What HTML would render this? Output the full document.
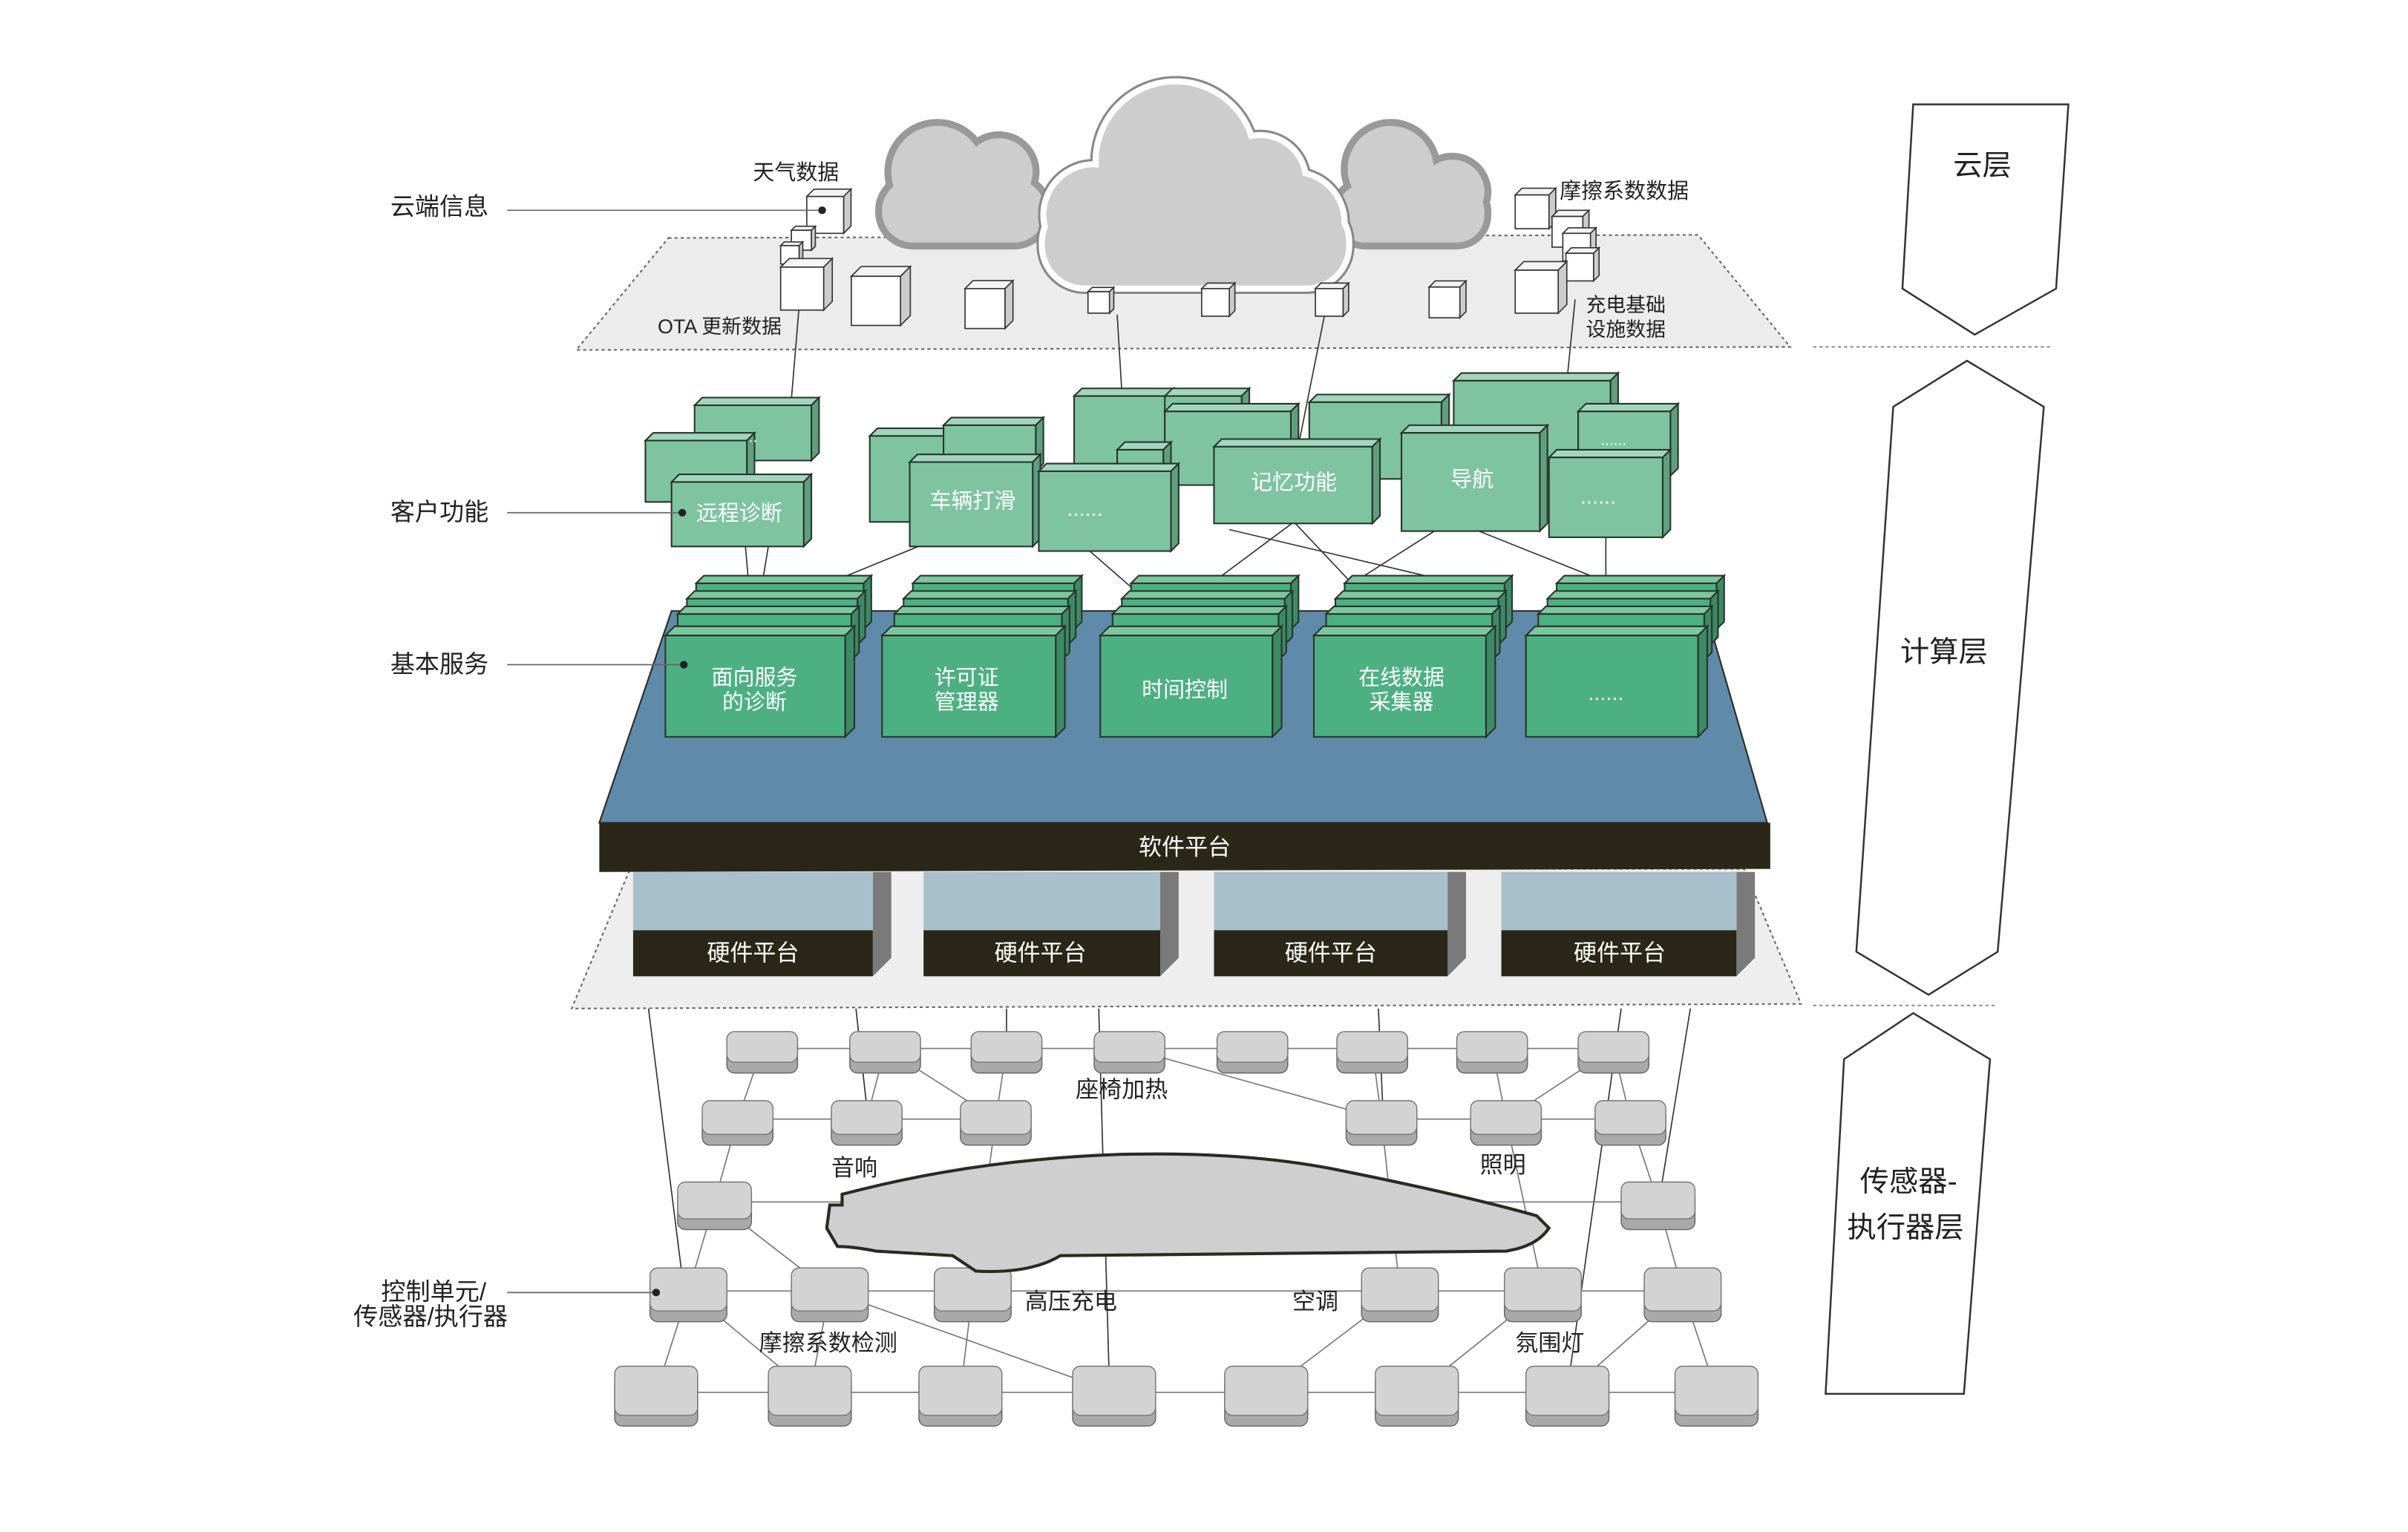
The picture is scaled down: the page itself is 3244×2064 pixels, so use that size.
<!DOCTYPE html>
<html><head><meta charset="utf-8"><style>
html,body{margin:0;padding:0;background:#fff;}
svg{display:block;}
text{font-family:"Liberation Sans","Noto Sans CJK SC",sans-serif;}
</style></head><body>
<svg id="s" width="3244" height="2064" viewBox="0 0 1567 998" preserveAspectRatio="none" xmlns="http://www.w3.org/2000/svg">
<rect width="1600" height="1000" fill="#fff"/>
<polygon points="1245,68 1346,68 1338,188 1285,218 1238,188" fill="#fff" stroke="#333" stroke-width="1.2"/>
<polygon points="1232,265 1280,235 1330,265 1300,620 1255,648 1208,620" fill="#fff" stroke="#333" stroke-width="1.2"/>
<polygon points="1200,690 1245,660 1295,690 1278,908 1188,908" fill="#fff" stroke="#333" stroke-width="1.2"/>
<line x1="1180" y1="226" x2="1335" y2="226" stroke="#888" stroke-dasharray="2,2"/>
<line x1="1180" y1="655" x2="1300" y2="655" stroke="#888" stroke-dasharray="2,2"/>
<g font-size="19" fill="#222" text-anchor="middle">
<text x="1290" y="114">云层</text>
<text x="1265" y="431">计算层</text>
<text x="1242" y="776">传感器-</text>
<text x="1240" y="806">执行器层</text>
</g>
<polygon points="435,155 1105,153 1165,226 375,228" fill="#ececec" stroke="#666" stroke-dasharray="2,2"/>
<polygon points="410,566 1135,566 1172,654 372,657" fill="#eeeeee" stroke="#666" stroke-dasharray="2,2"/>
<g id="lines" stroke="#555" stroke-width="0.8" fill="none"></g>
<g id="tiles"></g>
<path d="M540,785 L548,785 L548,778 L560,775 Q640,755 730,752 Q810,750 870,762 Q950,778 1000,792 L1008,800 Q1000,812 980,815 L690,818 Q670,830 635,828 L620,818 L570,815 Q555,812 545,812 L538,800 Z" fill="#cfcfcf" stroke="#2a2a1f" stroke-width="2"/>
<g id="boxes"></g>
<g stroke="#999" stroke-width="5" fill="#cdcdcd">
<circle cx="610" cy="112" r="32"/><circle cx="650" cy="112" r="24"/><rect x="572" y="115" width="110" height="45" rx="22"/>
<circle cx="905" cy="110" r="30"/><circle cx="945" cy="125" r="23"/><rect x="868" y="118" width="100" height="42" rx="20"/>
</g>
<g fill="#cdcdcd" stroke="none">
<circle cx="610" cy="112" r="30"/><circle cx="650" cy="112" r="22"/><rect x="574" y="117" width="106" height="41" rx="20"/>
<circle cx="905" cy="110" r="28"/><circle cx="945" cy="125" r="21"/><rect x="870" y="120" width="96" height="38" rx="18"/>
</g>
<g stroke="#888" stroke-width="7" fill="#cdcdcd">
<circle cx="765" cy="105" r="52"/><circle cx="820" cy="118" r="30"/><circle cx="712" cy="140" r="33"/><circle cx="842" cy="145" r="33"/><rect x="678" y="130" width="200" height="58" rx="28"/>
</g>
<g stroke="#fff" stroke-width="4" fill="#cdcdcd">
<circle cx="765" cy="105" r="52"/><circle cx="820" cy="118" r="30"/><circle cx="712" cy="140" r="33"/><circle cx="842" cy="145" r="33"/><rect x="678" y="130" width="200" height="58" rx="28"/>
</g>
<g fill="#cdcdcd"><circle cx="765" cy="105" r="50"/><circle cx="820" cy="118" r="28"/><circle cx="712" cy="140" r="31"/><circle cx="842" cy="145" r="31"/><rect x="680" y="132" width="196" height="54" rx="26"/></g>
<g id="cubes"></g>
<polygon points="437,398 1110,398 1150,536 390,536" fill="#5f8aa9" stroke="#2a2a1f"/>
<g id="svc"></g>
<polygon points="390,536 1152,536 1152,566 390,568" fill="#2b2718"/>
<text x="771" y="557" font-size="15" fill="#fff" text-anchor="middle">软件平台</text>
<g id="hw"></g>
<g stroke="#666" stroke-width="0.8">
<line x1="330" y1="137" x2="535" y2="137"/>
<line x1="330" y1="334" x2="444" y2="334"/>
<line x1="330" y1="433" x2="445" y2="433"/>
<line x1="330" y1="842" x2="427" y2="842"/>
</g>
<g fill="#222"><circle cx="535" cy="137" r="2.5"/><circle cx="444" cy="334" r="2.5"/><circle cx="445" cy="433" r="2.5"/><circle cx="427" cy="842" r="2.5"/></g>
<g font-size="15" fill="#222">
<text x="254" y="140" font-size="16">云端信息</text>
<text x="254" y="339" font-size="16">客户功能</text>
<text x="254" y="438" font-size="16">基本服务</text>
<text x="248" y="847" font-size="16">控制单元/</text>
<text x="230" y="863" font-size="16">传感器/执行器</text>
<text x="490" y="117" font-size="14">天气数据</text>
<text x="1015" y="129" font-size="14">摩擦系数数据</text>
<text x="428" y="217" font-size="13">OTA 更新数据</text>
<text x="1032" y="203" font-size="13">充电基础</text>
<text x="1032" y="219" font-size="13">设施数据</text>
<text x="700" y="715">座椅加热</text>
<text x="541" y="766">音响</text>
<text x="963" y="764">照明</text>
<text x="667" y="853">高压充电</text>
<text x="841" y="853">空调</text>
<text x="494" y="880">摩擦系数检测</text>
<text x="986" y="880">氛围灯</text>
</g>
<g id="txt" font-size="14" fill="#fff" text-anchor="middle">
<text x="481" y="339">远程诊断</text>
<text x="633" y="331">车辆打滑</text>
<text x="706" y="336">......</text>
<text x="842" y="319">记忆功能</text>
<text x="958" y="317">导航</text>
<text x="1040" y="328">......</text>
<text x="1050" y="290" font-size="10">......</text>
<text x="490" y="288" font-size="10">..</text>
<text x="491" y="446">面向服务</text>
<text x="491" y="462">的诊断</text>
<text x="629" y="446">许可证</text>
<text x="629" y="462">管理器</text>
<text x="771" y="454">时间控制</text>
<text x="912" y="446">在线数据</text>
<text x="912" y="462">采集器</text>
<text x="1045" y="456">......</text>
<text x="490" y="626" font-size="15">硬件平台</text>
<text x="677" y="626" font-size="15">硬件平台</text>
<text x="866" y="626" font-size="15">硬件平台</text>
<text x="1054" y="626" font-size="15">硬件平台</text>
</g>
</svg>
<script>
var NS="http://www.w3.org/2000/svg";
function el(p,t,a){var e=document.createElementNS(NS,t);for(var k in a)e.setAttribute(k,a[k]);document.getElementById(p).appendChild(e);return e;}
function box(p,x,y,w,h,d,f,top,side){
 el(p,"polygon",{points:(x)+","+(y)+" "+(x+d)+","+(y-d)+" "+(x+w+d)+","+(y-d)+" "+(x+w)+","+y,fill:top,stroke:"#2a3328","stroke-width":1});
 el(p,"polygon",{points:(x+w)+","+y+" "+(x+w+d)+","+(y-d)+" "+(x+w+d)+","+(y+h-d)+" "+(x+w)+","+(y+h),fill:side,stroke:"#2a3328","stroke-width":1});
 el(p,"rect",{x:x,y:y,width:w,height:h,fill:f,stroke:"#2a3328","stroke-width":1});
}
var L=[[520,200,515,260],[727,205,730,255],[862,205,845,290],[1025,195,1020,245],
[485,355,490,412],[500,356,494,392],[600,355,495,398],[708,358,770,412],[842,340,775,390],
[842,340,908,410],[960,345,1035,375],[800,345,940,378],[1045,350,1045,412],[935,345,880,380],
[422,657,445,840],[557,657,565,730],[655,657,655,690],[715,657,722,905],[897,657,900,725],[1055,657,1020,905],[1100,657,1080,780]];
L.forEach(function(l){el("lines","line",{x1:l[0],y1:l[1],x2:l[2],y2:l[3],stroke:"#333"});});
var R=[[672,[473,553,632,712,792,870,948,1027],46,22],[717,[457,541,625,876,957,1038],46,24],[770,[441,1055],48,26],[826,[423,515,608,886,979,1070],50,30],[890,[400,500,598,698,797,895,993,1090],54,34]];
var nodes=[];
R.forEach(function(r){r[1].forEach(function(x){nodes.push([x+r[2]/2,r[0]+r[3]/2]);});});
var E=[[0,1],[1,2],[2,3],[3,4],[4,5],[5,6],[6,7],[8,9],[9,10],[11,12],[12,13],[14,15],[0,8],[1,9],[2,10],[1,10],[5,11],[6,12],[7,13],[7,12],[8,14],[14,16],[15,21],[13,15],[16,17],[17,18],[18,19],[19,20],[20,21],[14,17],[16,22],[17,23],[18,24],[19,26],[20,27],[21,28],[21,29],[17,25],[22,23],[23,24],[24,25],[25,26],[26,27],[27,28],[28,29],[10,18],[11,19],[12,20],[3,11],[16,23]];
E.forEach(function(e){var a=nodes[e[0]],b=nodes[e[1]];el("lines","line",{x1:a[0],y1:a[1],x2:b[0],y2:b[1],stroke:"#777","stroke-width":0.8});});
R.forEach(function(r){r[1].forEach(function(x){var w=r[2],h=r[3],y=r[0];
 el("tiles","rect",{x:x,y:y+5,width:w,height:h,rx:5,fill:"#a9a9a9",stroke:"#666","stroke-width":0.7});
 el("tiles","rect",{x:x,y:y,width:w,height:h-2,rx:5,fill:"#d3d3d3",stroke:"#777","stroke-width":0.7});});});
var G="#7ec4a1",GT="#a2d6bc",GS="#5e9f7f";
[[452,264,76,36],[420,287,66,40],[566,284,58,56],[614,277,60,30],[699,258,60,48],[758,258,50,30],[852,262,86,50],[946,248,102,60],[1027,268,60,42],[758,268,82,48],[727,293,30,20],
[437,314,86,42],[592,301,80,55],[676,307,86,52],[790,291,103,50],[912,282,90,64],[1008,298,74,52]].forEach(function(b){box("boxes",b[0],b[1],b[2],b[3],5,G,GT,GS);});
var S="#4db083",ST="#7cc6a0",SS="#3c8a66";
[[433,117],[574,113],[716,112],[855,112],[993,112]].forEach(function(s){var x=s[0],w=s[1];
 box("svc",x+20,380,w-8,30,5,S,ST,SS);box("svc",x+14,390,w-6,30,5,S,ST,SS);box("svc",x+8,400,w-4,30,5,S,ST,SS);
 box("svc",x,414,w,66,6,S,ST,SS);});
[[412,156],[601,154],[790,152],[977,153]].forEach(function(h){var x=h[0],w=h[1];
 el("hw","polygon",{points:(x+w)+",568 "+(x+w+12)+",568 "+(x+w+12)+",624 "+(x+w)+",636",fill:"#7a7a7a"});
 el("hw","rect",{x:x,y:568,width:w,height:38,fill:"#a8c0cc"});
 el("hw","rect",{x:x,y:606,width:w,height:30,fill:"#2b2718"});});
function cube(x,y,s){var d=s*0.2;
 el("cubes","polygon",{points:x+","+y+" "+(x+d)+","+(y-d)+" "+(x+s+d)+","+(y-d)+" "+(x+s)+","+y,fill:"#f4f4f4",stroke:"#333","stroke-width":0.8});
 el("cubes","polygon",{points:(x+s)+","+y+" "+(x+s+d)+","+(y-d)+" "+(x+s+d)+","+(y+s-d)+" "+(x+s)+","+(y+s),fill:"#ccc",stroke:"#333","stroke-width":0.8});
 el("cubes","rect",{x:x,y:y,width:s,height:s,fill:"#fff",stroke:"#333","stroke-width":0.8});}
[[525,128,24],[515,150,13],[508,160,12],[508,174,28],[554,180,32],[628,188,26],[930,187,20],[986,127,22],[1010,141,20],[1017,152,18],[1019,165,18],[986,176,28],[708,190,14],[782,188,18],[856,188,18]].forEach(function(c){cube(c[0],c[1],c[2]);});
</script>
</body></html>
